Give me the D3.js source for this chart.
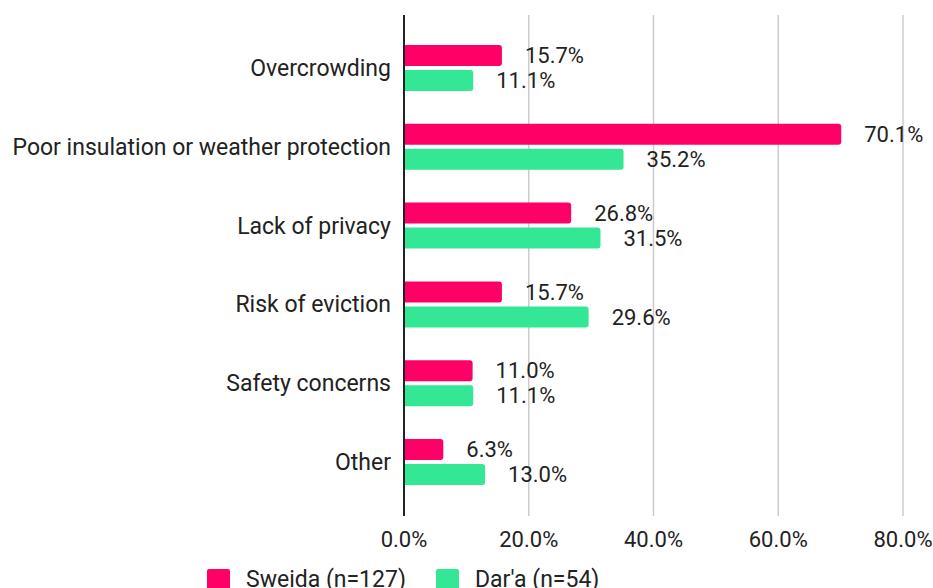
<!DOCTYPE html>
<html><head><meta charset="utf-8">
<script src="https://cdn.jsdelivr.net/npm/d3@7"></script>
<style>body{margin:0;background:#fff;} text{font-family:Roboto,"Noto Sans",sans-serif;}</style>
</head><body><svg id="c" width="933" height="588"></svg>
<script>
const categories = ["Overcrowding","Poor insulation or weather protection","Lack of privacy","Risk of eviction","Safety concerns","Other"];
const seriesNames = ["Sweida (n=127)","Dar'a (n=54)"];
const sweida = [15.7,70.1,26.8,15.7,11.0,6.3];
const dara = [11.1,35.2,31.5,29.6,11.1,13.0];
const tickValues = [0,20,40,60,80];
const colors = ["#FF0066","#34E794"];

const svg = d3.select("#c");
const x = d3.scaleLinear().domain([0,80]).range([404,903]);
const y = d3.scaleBand().domain(categories).range([28.6,501.4]);
const sub = d3.scaleBand().domain([0,1]).range([-23,23]).paddingInner(0.16);

// gridlines
svg.append("g").selectAll("line").data(tickValues.slice(1)).join("line")
  .attr("x1",d=>x(d)).attr("x2",d=>x(d)).attr("y1",15).attr("y2",516)
  .attr("stroke","#cccccc").attr("stroke-width",1.5);

const series = [sweida,dara];
function barPath(x0,y0,w,h,r){
  r=Math.min(r,w);
  return `M${x0},${y0}H${x0+w-r}Q${x0+w},${y0} ${x0+w},${y0+r}V${y0+h-r}Q${x0+w},${y0+h} ${x0+w-r},${y0+h}H${x0}Z`;
}
series.forEach((vals,si)=>{
  const g = svg.append("g");
  g.selectAll("path").data(vals).join("path")
    .attr("d",(d,i)=>barPath(x(0),y(categories[i])+y.bandwidth()/2+sub(si),x(d)-x(0),sub.bandwidth(),3))
    .attr("fill",colors[si]);
  g.selectAll("text").data(vals).join("text")
    .attr("x",d=>x(d)+23)
    .attr("y",(d,i)=>y(categories[i])+y.bandwidth()/2+sub(si)+sub.bandwidth()/2)
    .attr("dy","0.35em").attr("font-size",22).attr("fill","#222")
    .text(d=>d.toFixed(1)+"%");
});

// axis line
svg.append("line").attr("x1",x(0)).attr("x2",x(0)).attr("y1",15).attr("y2",516)
  .attr("stroke","#222").attr("stroke-width",2);

// category labels
svg.append("g").selectAll("text").data(categories).join("text")
  .attr("x",391).attr("y",d=>y(d)+y.bandwidth()/2).attr("dy","0.35em")
  .attr("text-anchor","end").attr("font-size",23).attr("fill","#222").text(d=>d);

// tick labels
svg.append("g").selectAll("text").data(tickValues).join("text")
  .attr("x",d=>x(d)).attr("y",539).attr("dy","0.35em")
  .attr("text-anchor","middle").attr("font-size",22).attr("fill","#222")
  .text(d=>d.toFixed(1)+"%");

// legend
const leg = svg.append("g");
const legX = [207,436];
seriesNames.forEach((n,i)=>{
  leg.append("rect").attr("x",legX[i]).attr("y",569).attr("width",23).attr("height",23).attr("rx",2).attr("fill",colors[i]);
  leg.append("text").attr("x",legX[i]+39).attr("y",579).attr("dy","0.35em")
    .attr("font-size",23).attr("fill","#222").text(n);
});
</script></body></html>
